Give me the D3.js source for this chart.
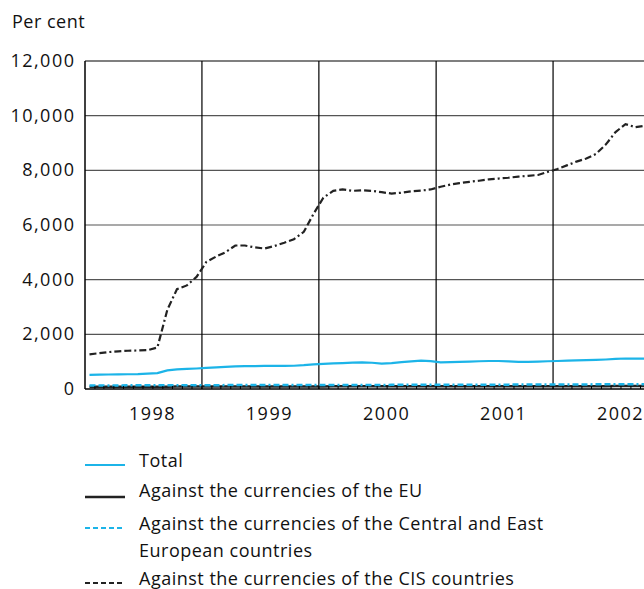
<!DOCTYPE html>
<html>
<head>
<meta charset="utf-8">
<script src="https://cdn.jsdelivr.net/npm/d3@7"></script>
<style>
  body { margin: 0; background: #fff; }
  svg { display: block; font-family: 'Open Sans', sans-serif; fill: #111; }
</style>
</head>
<body>
<script>
// monthly values, Jan 1998 onwards
const startYear = 1998;
const years = [1998, 1999, 2000, 2001, 2002];
const yTicks = [0, 2000, 4000, 6000, 8000, 10000, 12000];

const total = [520, 525, 530, 535, 540, 545, 560, 580, 680, 720, 735, 750,
               770, 790, 810, 830, 840, 840, 845, 845, 845, 850, 870, 900,
               920, 935, 950, 965, 975, 960, 930, 950, 985, 1010, 1035, 1020,
               975, 985, 995, 1005, 1015, 1025, 1025, 1010, 995, 995, 1005, 1015,
               1025, 1040, 1050, 1055, 1065, 1080, 1100, 1115, 1110, 1110];

const eu = [80, 80, 80, 80, 80, 82, 82, 84, 86, 88, 88, 90,
            90, 90, 92, 92, 92, 94, 94, 94, 95, 95, 96, 96,
            96, 97, 97, 98, 98, 98, 98, 99, 99, 100, 100, 100,
            100, 100, 100, 101, 101, 101, 102, 102, 102, 102, 103, 103,
            103, 104, 104, 104, 105, 105, 106, 106, 106, 106];

const cee = [130, 130, 132, 132, 133, 134, 135, 136, 138, 138, 140, 140,
             140, 141, 142, 142, 143, 143, 144, 144, 145, 145, 146, 146,
             147, 148, 148, 149, 150, 150, 150, 151, 152, 153, 154, 154,
             155, 156, 157, 158, 158, 159, 160, 160, 161, 162, 163, 164,
             165, 166, 167, 168, 170, 172, 175, 178, 178, 178];

const cis = [1270, 1310, 1350, 1380, 1400, 1410, 1420, 1520, 2900, 3650, 3790, 4100,
             4650, 4850, 5000, 5250, 5250, 5180, 5140, 5230, 5350, 5480, 5750, 6400,
             7000, 7250, 7300, 7250, 7270, 7250, 7200, 7150, 7180, 7230, 7260, 7300,
             7400, 7480, 7530, 7580, 7620, 7670, 7700, 7730, 7770, 7800, 7830, 7940,
             8050, 8190, 8320, 8430, 8600, 8950, 9400, 9690, 9580, 9630];

const legendLabels = [
  ['Total'],
  ['Against the currencies of the EU'],
  ['Against the currencies of the Central and East', 'European countries'],
  ['Against the currencies of the CIS countries']
];

const cyan = '#1cb4e8', dark = '#222';

const width = 644, height = 589;
const plotLeft = 85, plotTop = 61, plotBottom = 389;

const x = d3.scaleTime()
  .domain([new Date(startYear, 0, 1), new Date(startYear + 5, 0, 1)])
  .range([plotLeft, plotLeft + 585]);
const y = d3.scaleLinear().domain([0, 12000]).range([plotBottom, plotTop]);

const svg = d3.select('body').append('svg')
  .attr('width', width)
  .attr('height', height);

const defs = svg.append('defs');
defs.append('clipPath').attr('id', 'plot')
  .append('rect').attr('x', plotLeft).attr('y', 0).attr('width', width - plotLeft).attr('height', plotBottom + 2);

svg.append('text')
  .attr('x', 12).attr('y', 28)
  .attr('font-size', 18)
  .attr('letter-spacing', 0.5)
  .text('Per cent');

// horizontal grid
svg.append('g').selectAll('line')
  .data(yTicks.filter(d => d > 0 && d < 12000))
  .enter().append('line')
  .attr('x1', plotLeft).attr('x2', width)
  .attr('y1', d => y(d)).attr('y2', d => y(d))
  .attr('stroke', '#555').attr('stroke-width', 1.2);

svg.append('line')
  .attr('x1', plotLeft).attr('x2', width)
  .attr('y1', y(12000)).attr('y2', y(12000))
  .attr('stroke', '#000').attr('stroke-width', 1.2);

// vertical grid at year boundaries
svg.append('g').selectAll('line')
  .data(years.slice(1))
  .enter().append('line')
  .attr('x1', d => x(new Date(d, 0, 1))).attr('x2', d => x(new Date(d, 0, 1)))
  .attr('y1', plotTop).attr('y2', plotBottom)
  .attr('stroke', '#000').attr('stroke-width', 1.2);

// y labels
svg.append('g').selectAll('text')
  .data(yTicks)
  .enter().append('text')
  .attr('x', 75.5).attr('y', d => y(d) + 6)
  .attr('text-anchor', 'end')
  .attr('font-size', 18)
  .attr('letter-spacing', 1.5)
  .text(d => d3.format(',')(d));

// x labels
svg.append('g').selectAll('text')
  .data(years)
  .enter().append('text')
  .attr('x', d => x(new Date(d, 6, 15)) + 5)
  .attr('y', 420)
  .attr('text-anchor', 'middle')
  .attr('font-size', 18)
  .attr('letter-spacing', 1.5)
  .text(d => d);

const dateOf = i => new Date(startYear, i, 15);
const line = d3.line().x((d, i) => x(dateOf(i))).y(d => y(d));

const plot = svg.append('g').attr('clip-path', 'url(#plot)');

plot.append('path').datum(eu)
  .attr('d', line).attr('fill', 'none')
  .attr('stroke', dark).attr('stroke-width', 2.5);

plot.append('path').datum(cee)
  .attr('d', line).attr('fill', 'none')
  .attr('stroke', cyan).attr('stroke-width', 2.5)
  .attr('stroke-dasharray', '6,3,6,3,2,3');

plot.append('path').datum(total)
  .attr('d', line).attr('fill', 'none')
  .attr('stroke', cyan).attr('stroke-width', 2.2);

plot.append('path').datum(cis)
  .attr('d', line).attr('fill', 'none')
  .attr('stroke', dark).attr('stroke-width', 2.2)
  .attr('stroke-dasharray', '7,3,7,3,2,3');

// axes lines
svg.append('line')
  .attr('x1', plotLeft).attr('x2', width)
  .attr('y1', plotBottom).attr('y2', plotBottom)
  .attr('stroke', '#000').attr('stroke-width', 1.5);
svg.append('line')
  .attr('x1', plotLeft).attr('x2', plotLeft)
  .attr('y1', plotTop).attr('y2', plotBottom)
  .attr('stroke', '#000').attr('stroke-width', 1.5);

// monthly minor ticks
svg.append('g').selectAll('line')
  .data(d3.timeMonth.range(new Date(startYear, 1, 1), new Date(startYear + 5, 0, 1)))
  .enter().append('line')
  .attr('x1', d => x(d)).attr('x2', d => x(d))
  .attr('y1', plotBottom).attr('y2', plotBottom - 3)
  .attr('stroke', '#000').attr('stroke-width', 1);

// legend
const legendRows = [467, 497, 530, 585];
const legendStyles = [
  { color: cyan, dash: null, w: 2 },
  { color: dark, dash: null, w: 2.5 },
  { color: cyan, dash: '5,3', w: 2 },
  { color: dark, dash: '5,3', w: 2 }
];

const legend = svg.append('g');
legendLabels.forEach((lines, i) => {
  const yy = legendRows[i];
  legend.append('line')
    .attr('x1', 85).attr('x2', 125)
    .attr('y1', i === 1 ? yy : yy - 2).attr('y2', i === 1 ? yy : yy - 2)
    .attr('stroke', legendStyles[i].color)
    .attr('stroke-width', legendStyles[i].w)
    .attr('stroke-dasharray', legendStyles[i].dash);
  lines.forEach((t, j) => {
    legend.append('text')
      .attr('x', 139).attr('y', yy + j * 27)
      .attr('font-size', 18)
      .attr('letter-spacing', 0.5)
      .text(t);
  });
});
</script>
</body>
</html>
